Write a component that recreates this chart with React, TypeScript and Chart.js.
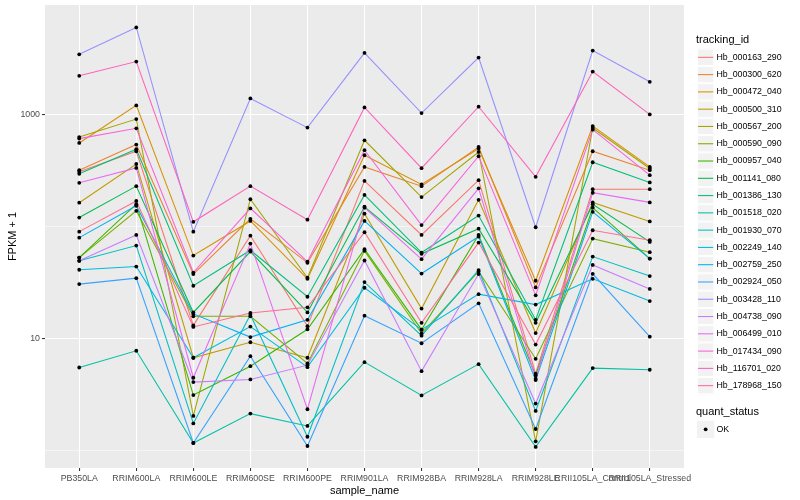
import { useEffect, useRef } from 'react';
import { Chart, registerables } from 'chart.js';

Chart.register(...registerables);

// ---- data ----
const categories = [
  'PB350LA', 'RRIM600LA', 'RRIM600LE', 'RRIM600SE', 'RRIM600PE', 'RRIM901LA',
  'RRIM928BA', 'RRIM928LA', 'RRIM928LE', 'RRII105LA_Control', 'RRII105LA_Stressed',
];

const seriesNames = [
  'Hb_000163_290', 'Hb_000300_620', 'Hb_000472_040', 'Hb_000500_310', 'Hb_000567_200',
  'Hb_000590_090', 'Hb_000957_040', 'Hb_001141_080', 'Hb_001386_130', 'Hb_001518_020',
  'Hb_001930_070', 'Hb_002249_140', 'Hb_002759_250', 'Hb_002924_050', 'Hb_003428_110',
  'Hb_004738_090', 'Hb_006499_010', 'Hb_017434_090', 'Hb_116701_020', 'Hb_178968_150',
];

// FPKM + 1 per sample (order of categories)
const hb000163_290 = [307, 469, 13.1, 82.8, 12.9, 255, 84, 259, 4.86, 215, 215];
const hb000300_620 = [318, 538, 37.6, 117, 47.4, 340, 229, 512, 28.6, 469, 318];
const hb000472_040 = [556, 1202, 55, 112, 34.1, 432, 237, 496, 32.8, 787, 340];
const hb000500_310 = [163, 361, 6.74, 9.27, 6.74, 130, 18.5, 173, 11.2, 164, 111];
const hb000567_200 = [628, 908, 2.04, 175, 34.9, 587, 183, 462, 1.21, 756, 329];
const hb000590_090 = [52.8, 138, 15.8, 15.8, 6.0, 60.6, 11.1, 39.7, 6.6, 77.9, 59];
const hb000957_040 = [52.8, 158, 3.13, 5.67, 12.1, 62.7, 12.0, 84, 4.69, 147, 51.7];
const hb001141_080 = [120, 229, 17.1, 59.7, 17.1, 150, 57, 95.6, 13.8, 158, 72.8];
const hb001386_130 = [295, 489, 29.6, 61.4, 23.6, 191, 58.5, 125, 14.7, 374, 247];
const hb001518_020 = [5.52, 7.78, 1.17, 2.14, 1.66, 6.16, 3.11, 5.91, 1.08, 5.45, 5.27];
const hb001930_070 = [49.4, 67.5, 1.75, 16.3, 1.33, 31.9, 10.6, 40.8, 2.26, 53.9, 36.1];
const hb002249_140 = [41.1, 43.9, 6.74, 12.8, 5.56, 28.4, 12.0, 24.9, 20.1, 34.1, 21.6];
const hb002759_250 = [79.5, 153, 16.6, 10.3, 14.7, 112, 38.0, 81.1, 4.26, 135, 51.7];
const hb002924_050 = [30.6, 34.6, 1.17, 6.96, 1.10, 16.0, 9.08, 20.6, 1.56, 37.8, 10.4];
const hb003428_110 = [3436, 5970, 89.9, 1388, 762, 3535, 1028, 3212, 98.4, 3707, 1953];
const hb004738_090 = [49.4, 84, 4.09, 4.32, 5.79, 49.7, 5.12, 37.6, 2.63, 45.4, 27.7];
const hb006499_010 = [245, 333, 4.47, 70.3, 2.34, 147, 51.1, 219, 4.38, 200, 164];
const hb017434_090 = [608, 751, 38.8, 145, 48.6, 479, 103, 423, 24.3, 731, 287];
const hb116701_020 = [2208, 2958, 110, 229, 115, 1153, 331, 1171, 277, 2411, 1000];
const hb178968_150 = [89.9, 169, 12.7, 16.9, 19.0, 88.8, 13.8, 71.8, 8.84, 92.5, 75.4];

const seriesValues = [
  hb000163_290, hb000300_620, hb000472_040, hb000500_310, hb000567_200,
  hb000590_090, hb000957_040, hb001141_080, hb001386_130, hb001518_020,
  hb001930_070, hb002249_140, hb002759_250, hb002924_050, hb003428_110,
  hb004738_090, hb006499_010, hb017434_090, hb116701_020, hb178968_150,
];

const yTickValues = [1, 10, 100, 1000];
const yTickLabels = ['', '10', '', '1000'];
const quantStatus = ['OK'];

// ---- styles ----
const seriesColors = [
  '#F8766D', '#EA8331', '#D89000', '#C09B00', '#A3A500',
  '#7CAE00', '#39B600', '#00BB4E', '#00BF7D', '#00C1A3',
  '#00BFC4', '#00BAE0', '#00B0F6', '#35A2FF', '#9590FF',
  '#C77CFF', '#E76BF3', '#FA62DB', '#FF62BC', '#FF6C91',
];
const FONT = '"Liberation Sans", Arial, Helvetica, sans-serif';

const panelBg = {
  id: 'panelBg',
  beforeDraw(chart: any) {
    const { ctx, chartArea: a } = chart;
    ctx.save();
    ctx.fillStyle = '#FFFFFF';
    ctx.fillRect(0, 0, chart.width, chart.height);
    ctx.fillStyle = '#EBEBEB';
    ctx.fillRect(a.left, a.top, a.right - a.left, a.bottom - a.top);
    ctx.restore();
  },
};

const ggLegend = {
  id: 'ggLegend',
  afterDraw(chart: any) {
    const ctx = chart.ctx;
    const x0 = 697;
    const key = 17.28;
    ctx.save();
    ctx.textAlign = 'left';
    ctx.textBaseline = 'middle';
    ctx.fillStyle = '#000000';
    ctx.font = `11px ${FONT}`;
    ctx.fillText('tracking_id', 696, 39.5);
    const top = 48.7;
    seriesNames.forEach((name, i) => {
      const y = top + i * key;
      ctx.fillStyle = '#F2F2F2';
      ctx.fillRect(x0, y, key, key);
      ctx.strokeStyle = '#FFFFFF';
      ctx.lineWidth = 1;
      ctx.strokeRect(x0 + 0.5, y + 0.5, key - 1, key - 1);
      ctx.strokeStyle = seriesColors[i];
      ctx.lineWidth = 1.07;
      ctx.beginPath();
      ctx.moveTo(x0 + 1, y + key / 2);
      ctx.lineTo(x0 + key - 1, y + key / 2);
      ctx.stroke();
      ctx.fillStyle = '#000000';
      ctx.font = `8.8px ${FONT}`;
      ctx.fillText(name, 716.5, y + key / 2);
    });
    ctx.font = `11px ${FONT}`;
    ctx.fillText('quant_status', 696, 412);
    quantStatus.forEach((s, i) => {
      const y = 420.7 + i * key;
      ctx.fillStyle = '#F2F2F2';
      ctx.fillRect(x0, y, key, key);
      ctx.fillStyle = '#000000';
      ctx.beginPath();
      ctx.arc(x0 + key / 2, y + key / 2, 1.9, 0, Math.PI * 2);
      ctx.fill();
      ctx.font = `8.8px ${FONT}`;
      ctx.fillText(s, 716.5, y + key / 2);
    });
    ctx.restore();
  },
};

export default function App() {
  const ref = useRef<HTMLCanvasElement>(null);

  useEffect(() => {
    document.body.style.margin = '0';
    const lineSets = seriesValues.map((vals, i) => ({
      label: seriesNames[i],
      data: vals.map((v, j) => ({ x: j, y: v })),
      borderColor: seriesColors[i],
      backgroundColor: seriesColors[i],
      borderWidth: 1.07,
      pointRadius: 0,
      pointHoverRadius: 0,
      tension: 0,
      fill: false,
      order: seriesValues.length - i,
    }));
    const pointSet = {
      label: 'quant_status',
      data: seriesValues.flatMap((vals) => vals.map((v, j) => ({ x: j, y: v }))),
      showLine: false,
      pointRadius: 1.9,
      pointHoverRadius: 1.9,
      pointBorderWidth: 0,
      pointBackgroundColor: '#000000',
      borderColor: '#000000',
      order: 0,
    };
    const isMajor = (v: number) => v === 10 || v === 1000;

    const chart = new Chart(ref.current as HTMLCanvasElement, {
      type: 'line',
      data: { datasets: [...lineSets, pointSet] as any },
      options: {
        animation: false,
        responsive: false,
        events: [],
        layout: { padding: { left: 0, top: 5, right: 116, bottom: 0 } },
        plugins: { legend: { display: false }, tooltip: { enabled: false } },
        scales: {
          x: {
            type: 'linear',
            min: -0.6,
            max: 10.6,
            afterBuildTicks: (s: any) => {
              s.ticks = categories.map((_, i) => ({ value: i }));
            },
            afterFit: (s: any) => {
              s.height = 32;
              s.paddingLeft = 0;
              s.paddingRight = 0;
            },
            ticks: {
              autoSkip: false,
              maxRotation: 0,
              minRotation: 0,
              padding: 2,
              color: '#4D4D4D',
              font: { family: FONT, size: 8.8 },
              callback: (v: any) => categories[Math.round(Number(v))] ?? '',
            },
            grid: {
              color: '#FFFFFF',
              lineWidth: 1.07,
              drawTicks: true,
              tickLength: 3,
              tickColor: '#333333',
              tickWidth: 1.07,
            },
            border: { display: false },
            title: {
              display: true,
              text: 'sample_name',
              color: '#000000',
              font: { family: FONT, size: 11 },
              padding: { top: 0, bottom: 2 },
            },
          },
          y: {
            type: 'logarithmic',
            min: 0.719,
            max: 9460,
            afterBuildTicks: (s: any) => {
              s.ticks = yTickValues.map((v) => ({ value: v }));
            },
            afterFit: (s: any) => {
              s.width = 45;
              s.paddingTop = 0;
              s.paddingBottom = 0;
            },
            ticks: {
              padding: 2,
              color: '#4D4D4D',
              font: { family: FONT, size: 8.8 },
              callback: (v: any) => {
                const k = yTickValues.indexOf(Number(v));
                return k >= 0 ? yTickLabels[k] : '';
              },
            },
            grid: {
              color: '#FFFFFF',
              lineWidth: (c: any) => (isMajor(c.tick?.value) ? 1.07 : 0.53),
              drawTicks: true,
              tickLength: 3,
              tickColor: (c: any) => (isMajor(c.tick?.value) ? '#333333' : 'rgba(0,0,0,0)'),
              tickWidth: 1.07,
            },
            border: { display: false },
            title: {
              display: true,
              text: 'FPKM + 1',
              color: '#000000',
              font: { family: FONT, size: 11 },
              padding: { top: 6.5, bottom: 0 },
            },
          },
        },
      } as any,
      plugins: [panelBg, ggLegend],
    });
    return () => chart.destroy();
  }, []);

  return (
    <div style={{ width: 800, height: 500 }}>
      <canvas ref={ref} width={800} height={500} style={{ width: 800, height: 500, display: 'block' }} />
    </div>
  );
}
